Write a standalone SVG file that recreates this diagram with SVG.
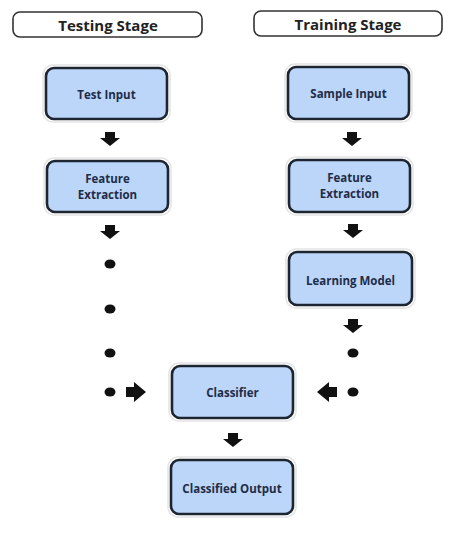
<svg xmlns="http://www.w3.org/2000/svg" xmlns:xlink="http://www.w3.org/1999/xlink" width="452" height="533" viewBox="0 0 452 533">
<style>
.stage{fill:#fff;stroke:#333;stroke-width:1.6}
.stxt{font-family:"Open Sans","Liberation Sans",sans-serif;font-weight:bold;font-size:15px;fill:#222;text-anchor:middle;dominant-baseline:central}
.halo{fill:none;stroke:#e4e4e4;stroke-width:1.5}
.box{fill:#bcd6fa;stroke:#1c2530;stroke-width:2.6}
.txt{font-family:"Open Sans","Liberation Sans",sans-serif;font-weight:bold;font-size:11.5px;fill:#1e2c48;text-anchor:middle;dominant-baseline:central}
.ar{fill:#111}
.dot{fill:#111}
</style>
<defs>
<path id="down" d="M-5,-7 H5 V-1 H10 L0,7 L-10,-1 H-5 Z"/>
<path id="right" d="M-10,-5 V5 H-2 V10 L10,0 L-2,-10 V-5 Z"/>
<path id="left" d="M10,-5 V5 H2 V10 L-10,0 L2,-10 V-5 Z"/>
</defs>
<g id="testing-stage">
<rect class="stage" x="13" y="12" width="189" height="25" rx="7"/>
<text class="stxt" x="108" y="24.5">Testing Stage</text>
</g>
<g id="training-stage">
<rect class="stage" x="254" y="11" width="188" height="25" rx="7"/>
<text class="stxt" x="348" y="23.5">Training Stage</text>
</g>
<g id="test-input">
<rect class="halo" x="43" y="65" width="127" height="57" rx="10"/>
<rect class="box" x="46" y="68" width="121" height="51" rx="8"/>
<text class="txt" x="106.5" y="94">Test Input</text>
</g>
<g id="feature-extraction-test">
<rect class="halo" x="44" y="158" width="127" height="57" rx="10"/>
<rect class="box" x="47" y="161" width="121" height="51" rx="8"/>
<text class="txt" x="107.5" y="178.5">Feature</text>
<text class="txt" x="107.5" y="194">Extraction</text>
</g>
<g id="sample-input">
<rect class="halo" x="285" y="64" width="127" height="58" rx="10"/>
<rect class="box" x="288" y="67" width="121" height="52" rx="8"/>
<text class="txt" x="348.5" y="93">Sample Input</text>
</g>
<g id="feature-extraction-train">
<rect class="halo" x="286" y="157" width="127" height="58" rx="10"/>
<rect class="box" x="289" y="160" width="121" height="52" rx="8"/>
<text class="txt" x="349.5" y="177.5">Feature</text>
<text class="txt" x="349.5" y="193">Extraction</text>
</g>
<g id="learning-model">
<rect class="halo" x="286" y="249" width="129" height="59" rx="10"/>
<rect class="box" x="289" y="252" width="123" height="53" rx="8"/>
<text class="txt" x="350.5" y="280">Learning Model</text>
</g>
<g id="classifier">
<rect class="halo" x="169" y="363" width="127" height="58" rx="10"/>
<rect class="box" x="172" y="366" width="121" height="52" rx="8"/>
<text class="txt" x="232.5" y="392">Classifier</text>
</g>
<g id="classified-output">
<rect class="halo" x="168" y="457" width="128" height="60" rx="10"/>
<rect class="box" x="171" y="460" width="122" height="54" rx="8"/>
<text class="txt" x="232" y="488">Classified Output</text>
</g>
<g id="connectors">
<use class="ar" xlink:href="#down" href="#down" x="110" y="139"/>
<use class="ar" xlink:href="#down" href="#down" x="110" y="232"/>
<use class="ar" xlink:href="#down" href="#down" x="352" y="139"/>
<use class="ar" xlink:href="#down" href="#down" x="353" y="231"/>
<use class="ar" xlink:href="#down" href="#down" x="353" y="326"/>
<use class="ar" xlink:href="#down" href="#down" x="233" y="440"/>
<use class="ar" xlink:href="#right" href="#right" x="136" y="392"/>
<use class="ar" xlink:href="#left" href="#left" x="327" y="392"/>
<ellipse class="dot" cx="110" cy="264" rx="5.5" ry="4.5"/>
<ellipse class="dot" cx="110" cy="309" rx="5.5" ry="4.5"/>
<ellipse class="dot" cx="110" cy="353" rx="5.5" ry="4.5"/>
<ellipse class="dot" cx="110" cy="392" rx="5.5" ry="4.5"/>
<ellipse class="dot" cx="353" cy="353" rx="5.5" ry="4.5"/>
<ellipse class="dot" cx="353" cy="392" rx="5.5" ry="4.5"/>
</g>
</svg>
